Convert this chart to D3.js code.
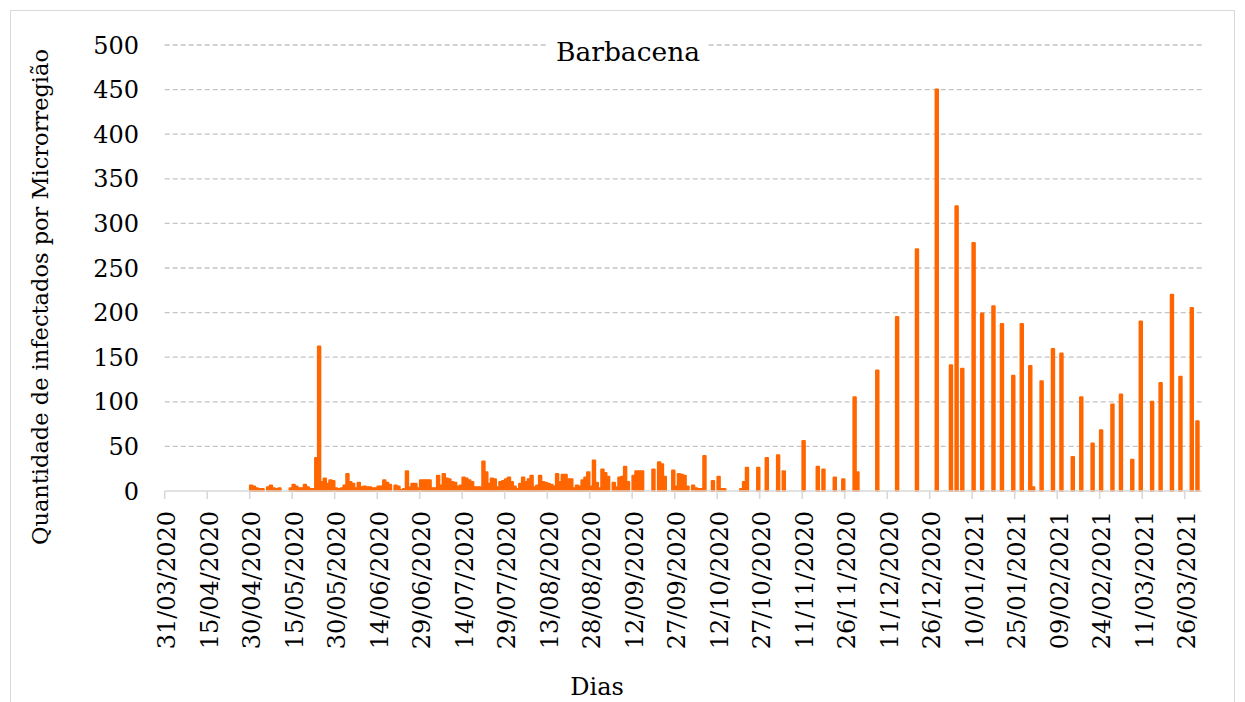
<!DOCTYPE html>
<html>
<head>
    <meta charset='utf-8'>
    <title>Barbacena</title>
    <style>
        body { margin: 0; background: #fff; }
        svg { display: block; font-family: "DejaVu Serif", serif; }
    </style>
</head>
<body>
<svg width="1245" height="702"></svg>
<script src="https://d3js.org/d3.v7.min.js"></script>
<script>
    // one value per day, 31/03/2020 .. 31/03/2021, rows of 15 days
    const firstDay = new Date(2020, 2, 31)
    const cases = [
        0, 0, 0, 0, 0, 0, 0, 0, 0, 0, 0, 0, 0, 0, 0,
        0, 0, 0, 0, 0, 0, 0, 0, 0, 0, 0, 0, 0, 0, 0,
        6, 5, 3, 2, 2, 0, 4, 6, 3, 2, 3, 0, 0, 0, 3,
        7, 5, 3, 3, 7, 4, 2, 2, 37, 162, 10, 14, 8, 12, 11,
        3, 2, 3, 6, 19, 10, 8, 3, 9, 4, 5, 4, 4, 3, 3,
        5, 5, 12, 9, 7, 0, 6, 5, 1, 2, 22, 4, 8, 8, 3,
        12, 12, 12, 12, 3, 3, 17, 6, 19, 14, 13, 10, 9, 5, 6,
        15, 14, 12, 10, 4, 4, 4, 33, 21, 8, 14, 13, 4, 10, 11,
        13, 15, 10, 5, 2, 8, 15, 10, 13, 17, 4, 6, 17, 10, 9,
        8, 7, 5, 19, 10, 18, 18, 13, 13, 3, 6, 5, 12, 15, 21,
        5, 34, 9, 3, 24, 20, 16, 0, 9, 4, 15, 16, 27, 10, 0,
        17, 22, 22, 22, 0, 0, 0, 24, 0, 32, 30, 16, 0, 0, 23,
        5, 19, 18, 17, 5, 0, 6, 3, 2, 2, 39, 0, 0, 11, 0,
        16, 2, 2, 0, 0, 0, 0, 0, 2, 10, 26, 0, 0, 0, 26,
        0, 0, 37, 0, 0, 0, 40, 0, 22, 0, 0, 0, 0, 0, 0,
        56, 0, 0, 0, 0, 27, 0, 24, 0, 0, 0, 15, 0, 0, 13,
        0, 0, 0, 105, 21, 0, 0, 0, 0, 0, 0, 135, 0, 0, 0,
        0, 0, 0, 195, 0, 0, 0, 0, 0, 0, 271, 0, 0, 0, 0,
        0, 0, 450, 0, 0, 0, 0, 141, 0, 319, 0, 137, 0, 0, 0,
        278, 0, 0, 199, 0, 0, 0, 207, 0, 0, 187, 0, 0, 0, 129,
        0, 0, 187, 0, 0, 140, 4, 0, 0, 123, 0, 0, 0, 159, 0,
        0, 154, 0, 0, 0, 38, 0, 0, 105, 0, 0, 0, 53, 0, 0,
        68, 0, 0, 0, 97, 0, 0, 108, 0, 0, 0, 35, 0, 0, 190,
        0, 0, 0, 100, 0, 0, 121, 0, 0, 0, 220, 0, 0, 128, 0,
        0, 0, 205, 0, 78, 0
    ]
    const tickLabels = [
        "31/03/2020", "15/04/2020", "30/04/2020", "15/05/2020", "30/05/2020",
        "14/06/2020", "29/06/2020", "14/07/2020", "29/07/2020", "13/08/2020",
        "28/08/2020", "12/09/2020", "27/09/2020", "12/10/2020", "27/10/2020",
        "11/11/2020", "26/11/2020", "11/12/2020", "26/12/2020", "10/01/2021",
        "25/01/2021", "09/02/2021", "24/02/2021", "11/03/2021", "26/03/2021"
    ]
    const yTicks = [0, 50, 100, 150, 200, 250, 300, 350, 400, 450, 500]

    const fmt = d3.timeFormat("%d/%m/%Y")
    const days = cases.map((v, i) => fmt(d3.timeDay.offset(firstDay, i)))
    const data = days.map((d, i) => ({day: d, value: cases[i]}))

    const margin = {top: 45, right: 43.3, bottom: 211, left: 164.7}
    const width = 1245
    const height = 702
    const orange = "#ff6600"

    const x = d3.scaleBand()
        .domain(days)
        .range([margin.left, width - margin.right])

    const y = d3.scaleLinear()
        .domain([0, 500])
        .range([height - margin.bottom, margin.top])

    const svg = d3.select("svg")

    svg.append("rect")
        .attr("x", 10.5).attr("y", 10.5)
        .attr("width", 1224).attr("height", 700)
        .attr("fill", "none")
        .attr("stroke", "#d9d9d9")

    // grid
    svg.append("g")
        .selectAll("line")
        .data(yTicks.filter(t => t > 0))
        .join("line")
        .attr("x1", margin.left)
        .attr("x2", width - margin.right)
        .attr("y1", d => y(d))
        .attr("y2", d => y(d))
        .attr("stroke", "#c4c4c4")
        .attr("stroke-width", 1.3)
        .attr("stroke-dasharray", "5,3")

    svg.append("g")
        .attr("font-size", 24)
        .attr("fill", "#000")
        .attr("text-anchor", "end")
        .selectAll("text")
        .data(yTicks)
        .join("text")
        .attr("x", 139)
        .attr("y", d => y(d))
        .attr("dy", "0.36em")
        .text(d => d)

    // bars
    const bw = x.bandwidth() * 0.8
    svg.append("g")
        .attr("fill", orange)
        .attr("stroke", orange)
        .attr("stroke-width", 2.2)
        .attr("stroke-linejoin", "round")
        .selectAll("rect")
        .data(data.filter(d => d.value > 0))
        .join("rect")
        .attr("x", d => x(d.day) + (x.bandwidth() - bw) / 2)
        .attr("y", d => y(d.value))
        .attr("width", bw)
        .attr("height", d => y(0) - y(d.value))

    // x axis
    const xAxis = svg.append("g")
    xAxis.append("line")
        .attr("x1", margin.left)
        .attr("x2", width - margin.right)
        .attr("y1", y(0))
        .attr("y2", y(0))
        .attr("stroke", "#d9d9d9")
        .attr("stroke-width", 1.6)

    xAxis.selectAll(".tick")
        .data(tickLabels)
        .join("line")
        .attr("class", "tick")
        .attr("x1", d => x(d))
        .attr("x2", d => x(d))
        .attr("y1", y(0))
        .attr("y2", y(0) + 8)
        .attr("stroke", "#d9d9d9")
        .attr("stroke-width", 1.6)

    xAxis.selectAll("text")
        .data(tickLabels)
        .join("text")
        .attr("font-size", 24)
        .attr("text-anchor", "end")
        .attr("transform", d => `translate(${x(d) + x.bandwidth() / 2 + 0.5},511) rotate(-90)`)
        .attr("dy", "0.36em")
        .text(d => d)

    // titles
    svg.append("rect")
        .attr("x", 548).attr("y", 32)
        .attr("width", 160).attr("height", 34)
        .attr("fill", "#fff")

    svg.append("text")
        .attr("x", 628)
        .attr("y", 61)
        .attr("text-anchor", "middle")
        .attr("font-size", 26.5)
        .text("Barbacena")

    svg.append("text")
        .attr("transform", "translate(40,297) rotate(-90)")
        .attr("text-anchor", "middle")
        .attr("dy", "0.36em")
        .attr("font-size", 22.5)
        .text("Quantidade de infectados por Microrregião")

    svg.append("text")
        .attr("x", 597)
        .attr("y", 686)
        .attr("dy", "0.36em")
        .attr("text-anchor", "middle")
        .attr("font-size", 24)
        .text("Dias")
</script>
</body>
</html>
